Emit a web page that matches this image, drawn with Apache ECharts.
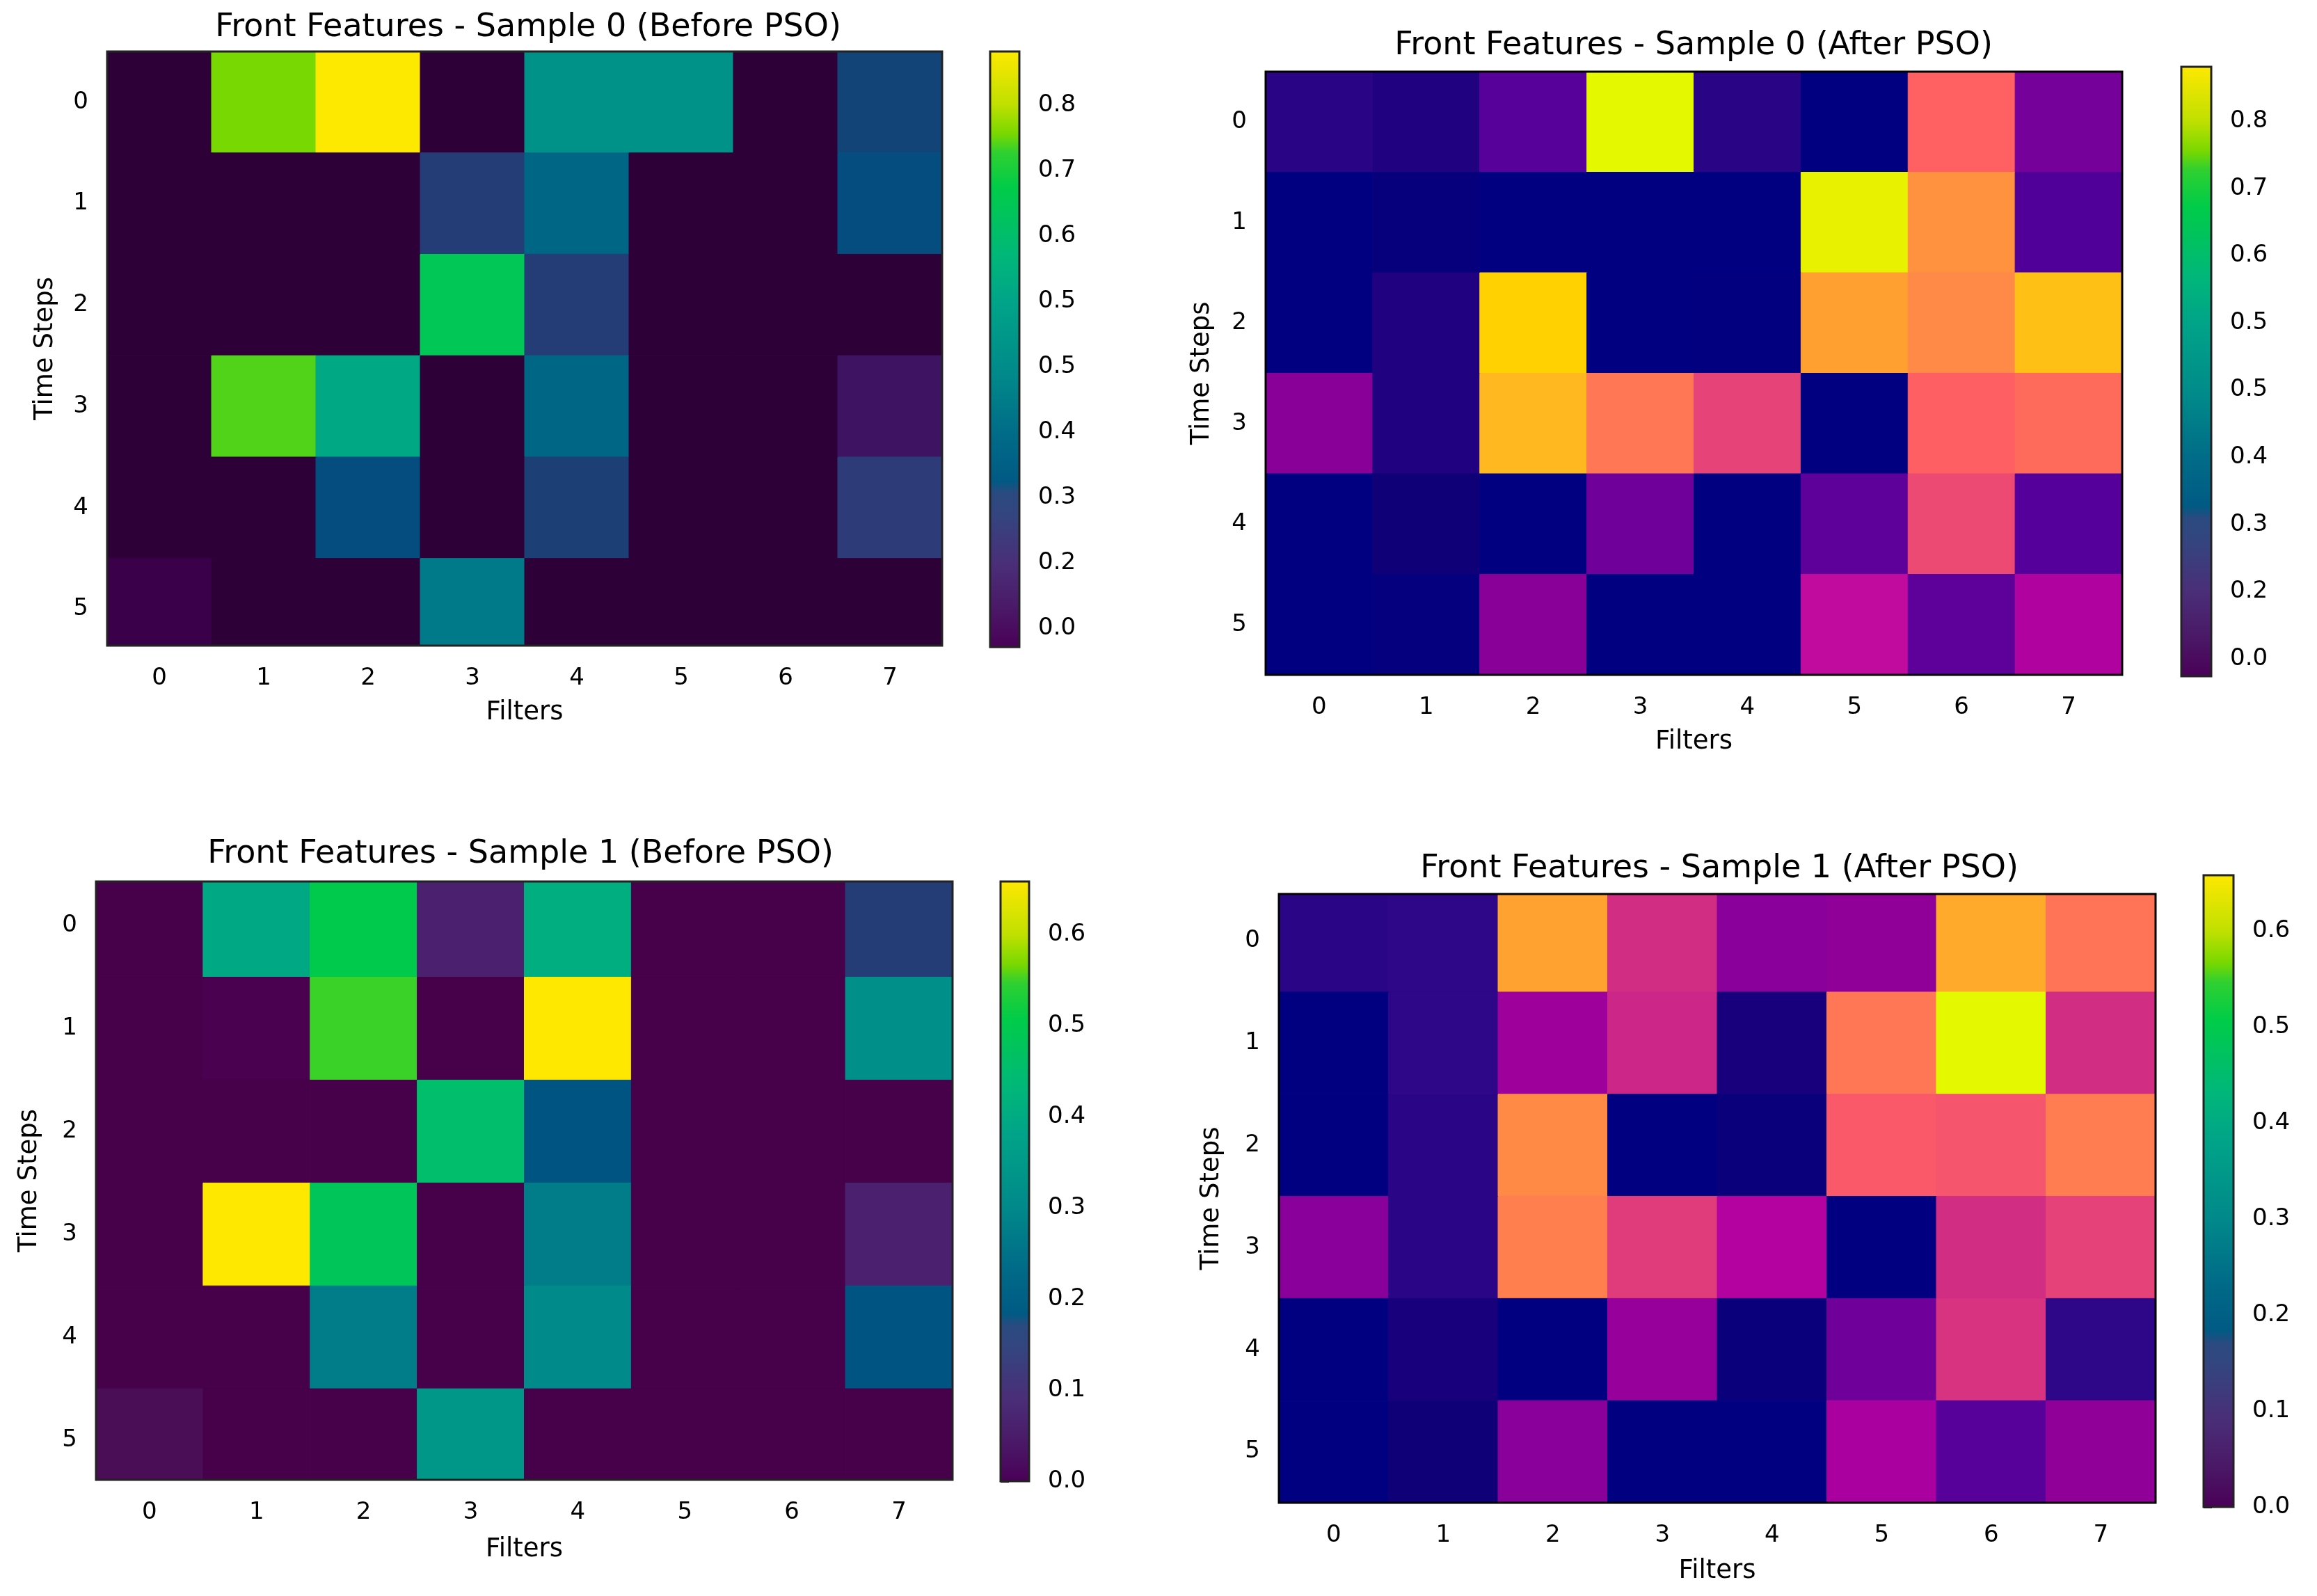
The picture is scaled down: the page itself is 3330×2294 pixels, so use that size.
<!DOCTYPE html>
<html><head><meta charset="utf-8">
<script src="https://cdn.jsdelivr.net/npm/echarts@6/dist/echarts.min.js"></script>
<style>html,body{margin:0;padding:0;background:#fff}#c{width:3330px;height:2294px}</style>
</head><body><div id="c"></div><script>
// ---------------- data ----------------
const filters = [0, 1, 2, 3, 4, 5, 6, 7];
const timeSteps = [0, 1, 2, 3, 4, 5];
const titles = [
  'Front Features - Sample 0 (Before PSO)',
  'Front Features - Sample 0 (After PSO)',
  'Front Features - Sample 1 (Before PSO)',
  'Front Features - Sample 1 (After PSO)'
];
const xName = 'Filters';
const yName = 'Time Steps';

// rows = time steps 0..5, columns = filters 0..7
const sample0Before = [
  [0.00, 0.755, 0.88, 0.00, 0.42, 0.42, 0.00, 0.218],
  [0.00, 0.00, 0.00, 0.19, 0.29, 0.00, 0.00, 0.236],
  [0.00, 0.00, 0.00, 0.645, 0.19, 0.00, 0.00, 0.00],
  [0.00, 0.74, 0.518, 0.00, 0.29, 0.00, 0.00, 0.055],
  [0.00, 0.00, 0.236, 0.00, 0.21, 0.00, 0.00, 0.17],
  [0.03, 0.00, 0.00, 0.345, 0.00, 0.00, 0.00, 0.00]
];
const sample0After = [
  [0.105, 0.088, 0.19, 0.88, 0.105, 0.00, 0.58, 0.24],
  [0.00, 0.018, 0.00, 0.00, 0.00, 0.87, 0.69, 0.176],
  [0.00, 0.088, 0.81, 0.00, 0.005, 0.72, 0.67, 0.78],
  [0.27, 0.088, 0.765, 0.63, 0.50, 0.00, 0.575, 0.605],
  [0.00, 0.044, 0.00, 0.23, 0.00, 0.20, 0.515, 0.185],
  [0.00, 0.01, 0.27, 0.00, 0.00, 0.38, 0.20, 0.345]
];
const sample1Before = [
  [0.00, 0.395, 0.50, 0.066, 0.408, 0.00, 0.00, 0.158],
  [0.00, 0.012, 0.549, 0.00, 0.658, 0.00, 0.00, 0.322],
  [0.00, 0.00, 0.00, 0.454, 0.204, 0.00, 0.00, 0.00],
  [0.00, 0.658, 0.48, 0.00, 0.276, 0.00, 0.00, 0.066],
  [0.00, 0.00, 0.276, 0.00, 0.303, 0.00, 0.00, 0.204],
  [0.025, 0.00, 0.00, 0.342, 0.00, 0.00, 0.00, 0.00]
];
const sample1After = [
  [0.08, 0.085, 0.54, 0.33, 0.20, 0.21, 0.55, 0.465],
  [0.00, 0.085, 0.23, 0.32, 0.05, 0.47, 0.655, 0.33],
  [0.00, 0.08, 0.50, 0.00, 0.02, 0.41, 0.40, 0.48],
  [0.20, 0.08, 0.485, 0.36, 0.26, 0.00, 0.33, 0.37],
  [0.00, 0.05, 0.00, 0.22, 0.02, 0.17, 0.34, 0.085],
  [0.00, 0.033, 0.20, 0.00, 0.00, 0.245, 0.14, 0.21]
];

// colorbar ranges and ticks
const cbRangeS0Before = [-0.028, 0.882];
const cbRangeS0After = [-0.026, 0.881];
const cbRangeS1Before = [0.0, 0.658];
const cbRangeS1After = [0.0, 0.658];
const cellRangeS0After = [0.0, 0.88];
const cellRangeS1After = [0.0, 0.655];
const cbTicksSample0 = [0.0, 0.1, 0.2, 0.3, 0.4, 0.5, 0.6, 0.7, 0.8];
const cbLabelsSample0 = ['0.0', '0.2', '0.3', '0.4', '0.5', '0.5', '0.6', '0.7', '0.8'];
const cbTicksSample1 = [0.0, 0.1, 0.2, 0.3, 0.4, 0.5, 0.6];
const cbLabelsSample1 = ['0.0', '0.1', '0.2', '0.3', '0.4', '0.5', '0.6'];

// ---------------- colour maps (style) ----------------
const viridisStops = [
  [0.00, '#4a0058'], [0.07, '#4a1a68'], [0.14, '#4a2e78'], [0.22, '#34447e'],
  [0.26, '#2a4a80'], [0.28, '#005a84'], [0.36, '#006c88'], [0.46, '#008a8a'],
  [0.58, '#00a488'], [0.66, '#00b878'], [0.77, '#00cc48'], [0.83, '#30d030'],
  [0.86, '#78d800'], [0.91, '#c0e000'], [1.00, '#ffe800']
];
const viridisCellMid = [
  [0.14, '#4a2e78'], [0.22, '#2c3c78'], [0.26, '#1e3e74'], [0.28, '#0a4a7c'],
  [0.30, '#005080'], [0.36, '#006a88']
].concat(viridisStops.filter(s => s[0] > 0.36));
const viridisCellsS0 = [[0.00, '#2c0036'], [0.031, '#2e0038'], [0.064, '#3a0048'], [0.09, '#3c1262']].concat(viridisCellMid);
const viridisCellsS1 = [[0.00, '#47004a'], [0.02, '#4a0050'], [0.04, '#4a1058'], [0.10, '#4a2070']].concat(viridisCellMid);
const plasmaStops = [
  [0.00, '#000080'], [0.05, '#100078'], [0.10, '#200080'], [0.13, '#2e0888'],
  [0.20, '#50009a'], [0.27, '#74009a'], [0.32, '#900099'], [0.38, '#ac009f'],
  [0.43, '#c0089f'], [0.50, '#d02c84'], [0.56, '#e4407a'], [0.62, '#f8586a'],
  [0.66, '#ff6060'], [0.71, '#ff7456'], [0.76, '#ff8848'], [0.82, '#ffa030'],
  [0.87, '#ffb820'], [0.92, '#ffd000'], [1.00, '#e4f800']
];

function hexToRgb(h) { return [parseInt(h.slice(1,3),16), parseInt(h.slice(3,5),16), parseInt(h.slice(5,7),16)]; }
function rgbToHex(c) { return '#' + c.map(v => Math.round(v).toString(16).padStart(2,'0')).join(''); }
function sampleStops(stops, n) {
  const out = [];
  for (let i = 0; i < n; i++) {
    const t = i / (n - 1);
    let k = 0;
    while (k < stops.length - 2 && t > stops[k+1][0]) k++;
    const a = stops[k], b = stops[k+1];
    const f = Math.min(1, Math.max(0, (t - a[0]) / (b[0] - a[0])));
    const ca = hexToRgb(a[1]), cb = hexToRgb(b[1]);
    out.push(rgbToHex(ca.map((v, j) => v + (cb[j] - v) * f)));
  }
  return out;
}

// ---------------- layout (style) ----------------
const FONT = 'DejaVu Sans';
const panels = [
  { data: sample0Before, title: titles[0], tx: 754, ty: 39,
    grid: {left:154, top:74, width:1200, height:854}, xr:[-0.5,7.5], yr:[-0.5,5.36],
    xGap: 78, yGap: 70, frame:'#222',
    cells: viridisCellsS0, cellRange: cbRangeS0Before,
    cb: {left:1423, top:74, width:42, height:856}, cbRange: cbRangeS0Before, cbTicks: cbTicksSample0, cbLabels: cbLabelsSample0 },
  { data: sample0After, title: titles[1], tx: 2429, ty: 65,
    grid: {left:1819, top:103, width:1231, height:867}, xr:[-0.5,7.5], yr:[-0.5,5.5],
    xGap: 78, yGap: 73, frame:'#000',
    cells: plasmaStops, cellRange: cellRangeS0After,
    cb: {left:3135, top:96, width:43, height:876}, cbRange: cbRangeS0After, cbTicks: cbTicksSample0, cbLabels: cbLabelsSample0 },
  { data: sample1Before, title: titles[2], tx: 743, ty: 1227,
    grid: {left:138, top:1267, width:1231, height:860}, xr:[-0.5,7.5], yr:[-0.43,5.385],
    xGap: 82, yGap: 77, frame:'#222',
    cells: viridisCellsS1, cellRange: cbRangeS1Before,
    cb: {left:1438, top:1267, width:41, height:862}, cbRange: cbRangeS1Before, cbTicks: cbTicksSample1, cbLabels: cbLabelsSample1 },
  { data: sample1After, title: titles[3], tx: 2466, ty: 1248,
    grid: {left:1838, top:1285, width:1260, height:875}, xr:[-0.5,7.5], yr:[-0.46,5.5],
    xGap: 80, yGap: 78, frame:'#000',
    cells: plasmaStops, cellRange: cellRangeS1After,
    cb: {left:3167, top:1258, width:43, height:908}, cbRange: cbRangeS1After, cbTicks: cbTicksSample1, cbLabels: cbLabelsSample1 }
];

const chart = echarts.init(document.getElementById('c'), null, {renderer: 'canvas'});

const grids = [], xAxes = [], yAxes = [], series = [], visualMaps = [], titleOpts = [];
const tickStyle = {show: true, length: 12, inside: false, lineStyle: {color: '#000', width: 3}};
const labelStyle = {fontFamily: FONT, fontSize: 34, color: '#000'};

panels.forEach((p, i) => {
  grids.push(Object.assign({show: true, borderColor: p.frame, borderWidth: 3, backgroundColor: 'transparent', z: 10}, p.grid));
  titleOpts.push({text: p.title, left: p.tx, top: p.ty - 27, textAlign: 'center',
    textStyle: {fontFamily: FONT, fontSize: 46, fontWeight: 'normal', color: '#000'}});
  xAxes.push({gridIndex: i, type: 'value', min: p.xr[0], max: p.xr[1],
    name: xName, nameLocation: 'middle', nameGap: p.xGap,
    nameTextStyle: {fontFamily: FONT, fontSize: 37, color: '#000'},
    axisLine: {show: false}, splitLine: {show: false},
    axisTick: Object.assign({customValues: filters}, tickStyle),
    axisLabel: Object.assign({customValues: filters, margin: 30, formatter: v => String(Math.round(v))}, labelStyle)});
  yAxes.push({gridIndex: i, type: 'value', min: p.yr[0], max: p.yr[1], inverse: true,
    name: yName, nameLocation: 'middle', nameGap: p.yGap,
    nameTextStyle: {fontFamily: FONT, fontSize: 37, color: '#000'},
    axisLine: {show: false}, splitLine: {show: false},
    axisTick: Object.assign({customValues: timeSteps}, tickStyle),
    axisLabel: Object.assign({customValues: timeSteps, margin: 27, formatter: v => String(Math.round(v))}, labelStyle)});
  const cells = [];
  p.data.forEach((row, r) => row.forEach((v, c) => cells.push([filters[c], timeSteps[r], v])));
  series.push({type: 'custom', xAxisIndex: i, yAxisIndex: i, encode: {x: 0, y: 1}, data: cells, z: 2,
    renderItem: function (params, api) {
      const x = api.value(0), y = api.value(1);
      const p0 = api.coord([x - 0.5, y - 0.5]);
      const p1 = api.coord([x + 0.5, y + 0.5]);
      const cs = params.coordSys;
      const rect = echarts.graphic.clipRectByRect(
        {x: Math.min(p0[0], p1[0]), y: Math.min(p0[1], p1[1]), width: Math.abs(p1[0] - p0[0]), height: Math.abs(p1[1] - p0[1])},
        {x: cs.x, y: cs.y, width: cs.width, height: cs.height});
      if (!rect) return;
      const col = api.visual('color');
      return {type: 'rect', shape: rect, style: {fill: col, stroke: col, lineWidth: 1}};
    }});
  visualMaps.push({type: 'continuous', show: false, seriesIndex: i, dimension: 2,
    min: p.cellRange[0], max: p.cellRange[1], inRange: {color: sampleStops(p.cells, 128)}});
});

// colorbars
panels.forEach((p, i) => {
  const gi = panels.length + i;
  grids.push(Object.assign({show: false}, p.cb));
  xAxes.push({gridIndex: gi, type: 'value', min: 0, max: 1, show: false});
  yAxes.push({gridIndex: gi, type: 'value', position: 'right', min: p.cbRange[0], max: p.cbRange[1],
    axisLine: {show: false}, splitLine: {show: false},
    axisTick: Object.assign({customValues: p.cbTicks}, tickStyle),
    axisLabel: Object.assign({customValues: p.cbTicks, margin: 27,
      formatter: v => { const k = p.cbTicks.findIndex(t => Math.abs(t - v) < 1e-6); return k >= 0 ? p.cbLabels[k] : ''; }}, labelStyle)});
  const cbStops = viridisStops.map(s => ({offset: s[0], color: s[1]}));
  series.push({type: 'custom', xAxisIndex: gi, yAxisIndex: gi, encode: {x: 0, y: 1},
    data: [[0, p.cbRange[0]]], z: 3, silent: true,
    renderItem: function (params, api) {
      const a = api.coord([0, p.cbRange[1]]);
      const b = api.coord([1, p.cbRange[0]]);
      return {type: 'rect', shape: {x: a[0], y: a[1], width: b[0] - a[0], height: b[1] - a[1]},
        style: {fill: new echarts.graphic.LinearGradient(0, 1, 0, 0, cbStops), stroke: '#222', lineWidth: 3}};
    }});
});

chart.setOption({
  backgroundColor: '#ffffff',
  animation: false,
  title: titleOpts,
  grid: grids,
  xAxis: xAxes,
  yAxis: yAxes,
  visualMap: visualMaps,
  series: series
});
</script></body></html>
